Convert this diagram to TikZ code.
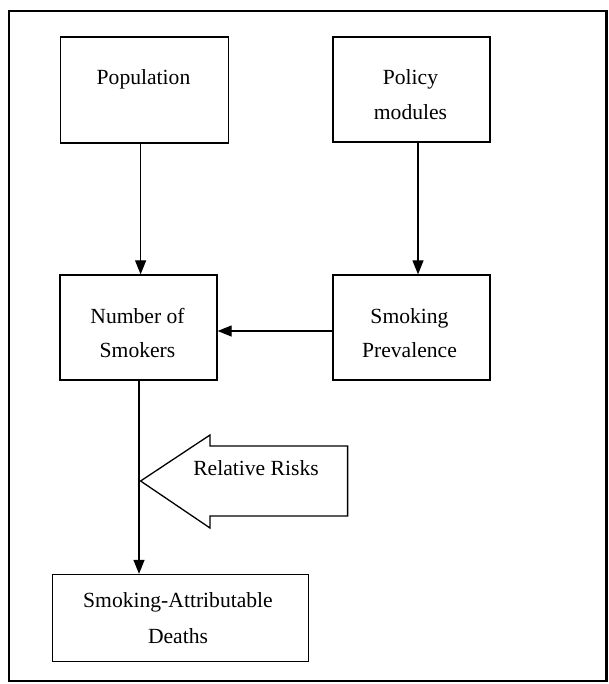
\documentclass[tikz,border=0pt]{standalone}
\usepackage{fontspec}
\setmainfont{Liberation Serif}
\usetikzlibrary{arrows.meta}
\begin{document}
\begin{tikzpicture}[x=1pt,y=-1pt,
  box/.style={draw=black,line width=1.3pt,inner sep=0pt},
  txt/.style={anchor=base,inner sep=0pt,font=\fontsize{21.6}{35}\selectfont},
  arr/.style={line width=1.2pt,-{Triangle[length=14pt,width=11pt]}},
  frame/.style={draw=black,line width=2.4pt}]
\useasboundingbox (0,0) rectangle (609,684);
\draw[frame] (9,11) rectangle (606.5,681);
% boxes
\node[box,minimum width=168pt,minimum height=106pt] (pop) at (144.5,90) {};
\node[box,minimum width=157pt,minimum height=105pt] (pol) at (411.5,89.5) {};
\node[box,minimum width=157pt,minimum height=105pt] (num) at (138.5,327.5) {};
\node[box,minimum width=157pt,minimum height=105pt] (prev) at (411.5,327.5) {};
\node[box,minimum width=256pt,minimum height=87pt] (dea) at (180.5,618) {};
% texts
\node[txt] (popt) at (143.5,85) {Population};
\node[txt] (polt1) at (410.5,85) {Policy};
\node[txt] (polt2) at (410.5,120) {modules};
\node[txt] (numt1) at (137.5,323) {Number of};
\node[txt] (numt2) at (137.5,357) {Smokers};
\node[txt] (prevt1) at (409.5,323) {Smoking};
\node[txt] (prevt2) at (409.5,357) {Prevalence};
\node[txt] (deat1) at (178,607) {Smoking-Attributable};
\node[txt] (deat2) at (178,643) {Deaths};
% block arrow
\draw[line width=1.3pt,line join=miter] (140.6,481) -- (210,435) -- (210,446) -- (347.6,446)
  -- (347.6,516) -- (210,516) -- (210,528) -- cycle;
\node[txt] (rr) at (256,475) {Relative Risks};
% connectors
\coordinate (ca) at (140.6,0);
\coordinate (cb) at (418,0);
\coordinate (cc) at (0,331);
\coordinate (cd) at (139,0);
\draw[arr] (pop.south -| ca) -- (num.north -| ca);
\draw[arr] (pol.south -| cb) -- (prev.north -| cb);
\draw[arr] (prev.west |- cc) -- (num.east |- cc);
\draw[arr] (num.south -| cd) -- (dea.north -| cd);
\end{tikzpicture}
\end{document}
